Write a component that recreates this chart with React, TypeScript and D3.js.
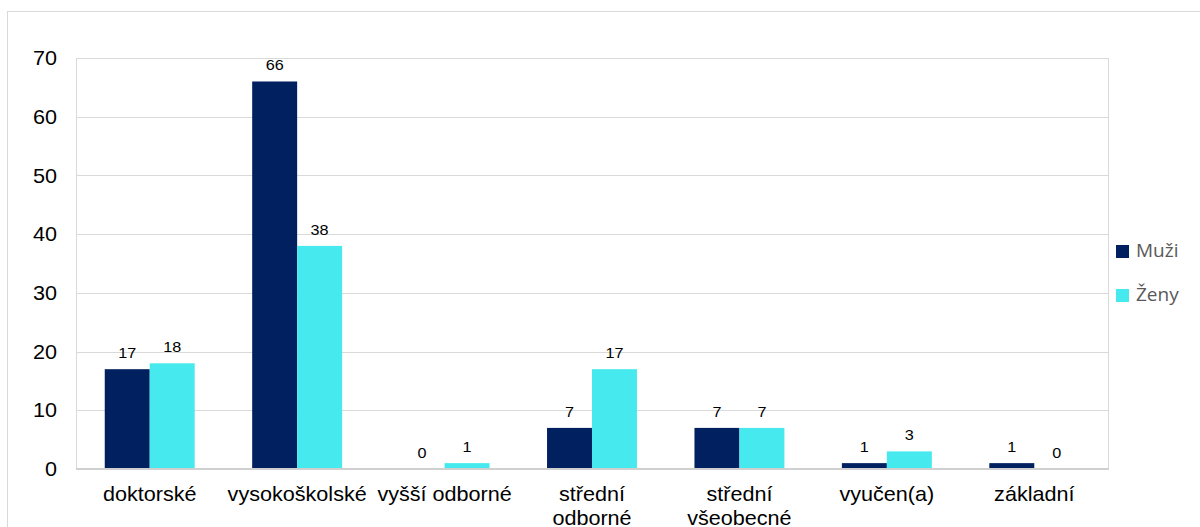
import React from "react";
import * as d3 from "d3";

const categories = [
  "doktorské",
  "vysokoškolské",
  "vyšší odborné",
  "střední odborné",
  "střední všeobecné",
  "vyučen(a)",
  "základní",
];
const seriesNames = ["Muži", "Ženy"];
const muzi = [17, 66, 0, 7, 7, 1, 1];
const zeny = [18, 38, 1, 17, 7, 3, 0];
const yTicks = [0, 10, 20, 30, 40, 50, 60, 70];
const colors = ["#00205F", "#46EAEE"];

// Category labels that wrap onto two lines
const labelLines: Record<string, string[]> = {
  "střední odborné": ["střední", "odborné"],
  "střední všeobecné": ["střední", "všeobecné"],
};

const W = 1200;
const H = 527;
const plot = { left: 76, top: 58, right: 1108, bottom: 469 };
const STRETCH = 1.08;

// Text drawn slightly widened, anchored at (x, y)
function WideText(props: {
  x: number;
  y: number;
  size: number;
  anchor: "start" | "middle" | "end";
  dy?: string;
  children: React.ReactNode;
}) {
  return (
    <g transform={`translate(${props.x},${props.y}) scale(${STRETCH},1)`}>
      <text x={0} y={0} dy={props.dy} textAnchor={props.anchor} fontSize={props.size} fill="#000">
        {props.children}
      </text>
    </g>
  );
}

export default function App() {
  const x = d3
    .scaleBand<string>()
    .domain(categories)
    .range([plot.left, plot.right])
    .paddingInner(0.39)
    .paddingOuter(0.195);
  const x1 = d3
    .scaleBand<string>()
    .domain(seriesNames)
    .range([0, x.bandwidth()]);
  const y = d3.scaleLinear().domain([0, 70]).range([plot.bottom, plot.top]);
  const values = [muzi, zeny];

  return (
    <svg
      width={W}
      height={H}
      style={{ position: "absolute", left: 0, top: 0, display: "block" }}
      fontFamily="'Liberation Sans', Arial, sans-serif"
    >
      <rect x={0} y={0} width={W} height={H} fill="#fff" />
      {/* outer chart frame */}
      <rect x={7.5} y={11.5} width={W} height={H} fill="none" stroke="#d9d9d9" />
      {/* gridlines */}
      {yTicks.map((t) => (
        <line
          key={t}
          x1={plot.left}
          x2={plot.right}
          y1={Math.round(y(t)) + 0.5}
          y2={Math.round(y(t)) + 0.5}
          stroke="#d9d9d9"
        />
      ))}
      {/* plot area frame */}
      <line x1={plot.left + 0.5} x2={plot.left + 0.5} y1={plot.top} y2={plot.bottom} stroke="#d9d9d9" />
      <line x1={plot.right + 0.5} x2={plot.right + 0.5} y1={plot.top} y2={plot.bottom} stroke="#d9d9d9" />
      {/* y tick labels */}
      {yTicks.map((t) => (
        <WideText key={t} x={57} y={y(t)} dy="0.36em" anchor="end" size={20}>
          {t}
        </WideText>
      ))}
      {/* bars and value labels */}
      {categories.map((c, i) => (
        <g key={c} transform={`translate(${x(c)},0)`}>
          {seriesNames.map((s, j) => {
            const v = values[j][i];
            const bx = x1(s)!;
            return (
              <g key={s}>
                {v > 0 && (
                  <rect
                    x={bx}
                    y={y(v)}
                    width={x1.bandwidth()}
                    height={y(0) - y(v)}
                    fill={colors[j]}
                  />
                )}
                <WideText x={bx + x1.bandwidth() / 2} y={y(v) - 11} anchor="middle" size={15}>
                  {v}
                </WideText>
              </g>
            );
          })}
        </g>
      ))}
      {/* x axis line */}
      <line x1={plot.left} x2={plot.right + 1} y1={plot.bottom} y2={plot.bottom} stroke="#d0d0d0" strokeWidth={2} />
      {/* category labels */}
      {categories.map((c) => {
        const lines = labelLines[c] || [c];
        const cx = x(c)! + x.bandwidth() / 2;
        return (
          <g key={c}>
            {lines.map((l, k) => (
              <WideText key={k} x={cx} y={501 + k * 24} anchor="middle" size={20}>
                {l}
              </WideText>
            ))}
          </g>
        );
      })}
      {/* legend */}
      {seriesNames.map((s, j) => (
        <g key={s} transform={`translate(1116,${245 + j * 44})`}>
          <rect x={0} y={0} width={13} height={13} fill={colors[j]} />
          <text x={20} y={12} fontSize={19} fill="#595959" fontFamily="'Open Sans', 'Noto Sans', sans-serif">
            {s}
          </text>
        </g>
      ))}
    </svg>
  );
}
